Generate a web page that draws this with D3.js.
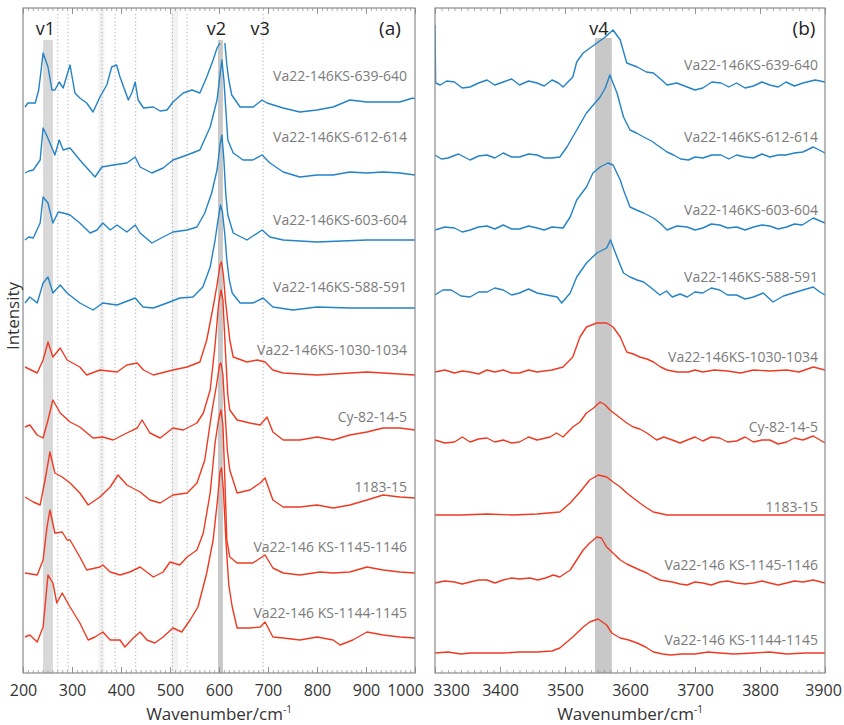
<!DOCTYPE html>
<html><head><meta charset="utf-8">
<script src="https://cdn.jsdelivr.net/npm/d3@7"></script>
<style>body{margin:0;background:#fff} svg{display:block}</style>
</head><body>
<svg id="c" width="844" height="725"></svg>
<script>
// ---------- DATA ----------
const seriesLabelsA = ["Va22-146KS-639-640","Va22-146KS-612-614","Va22-146KS-603-604","Va22-146KS-588-591","Va22-146KS-1030-1034","Cy-82-14-5","1183-15","Va22-146 KS-1145-1146","Va22-146 KS-1144-1145"];
const seriesLabelsB = seriesLabelsA.slice();
const seriesGroup = ["blue","blue","blue","blue","red","red","red","red","red"];
const ticksA = [200,300,400,500,600,700,800,900,1000];
const ticksB = [3300,3400,3500,3600,3700,3800,3900];
const bandsA = [[241,261],[598,608]];
const faintBandsA = [[354,366],[503,516]];
const dottedA = [271,292,361,388,430,505,535,690];
const bandB = [3546,3572];
const peakNamesA = [["v1",250],["v2",605],["v3",690]];
const peakNamesB = [["v4",3560]];

// panel (a) spectra: [wavenumber, stacked intensity (a.u.)]
const a1 = [[204,566],[210,570],[225,570],[232,583],[237,603],[241,620],[251,606],[259,583],[265,583],[274,591],[282,585],[296,608],[306,580],[316,575],[330,570],[343,561],[357,576],[371,588],[381,606],[391,608],[398,596],[415,573],[422,580],[429,591],[435,573],[446,565],[466,566],[480,562],[494,563],[506,571],[527,580],[545,583],[561,580],[575,596],[588,613],[596,625],[602,630],[607,null],[612,630],[616,608],[620,593],[626,578],[643,566],[670,566],[688,573],[698,570],[731,565],[765,561],[800,563],[833,566],[867,573],[902,571],[935,571],[969,571],[996,575],[1000,574]];
const a2 = [[204,500],[212,502],[221,503],[235,513],[241,545],[248,538],[255,530],[265,518],[274,533],[282,523],[296,525],[316,513],[347,496],[361,506],[384,508],[412,510],[429,516],[439,506],[463,500],[486,505],[506,513],[535,518],[561,523],[582,546],[596,573],[602,598],[606,613],[610,593],[614,563],[618,533],[629,520],[649,513],[669,513],[688,518],[704,510],[731,501],[765,496],[800,498],[833,498],[867,501],[902,500],[935,501],[969,500],[1000,498]];
const a3 = [[204,433],[212,436],[221,435],[235,450],[241,476],[246,473],[251,470],[261,450],[272,461],[282,460],[296,458],[316,450],[337,440],[351,443],[363,450],[378,443],[392,448],[412,441],[429,448],[439,440],[463,430],[486,436],[506,441],[535,443],[555,446],[571,460],[585,480],[596,503],[602,528],[606,538],[610,513],[614,478],[618,458],[629,440],[657,433],[688,443],[704,436],[731,433],[800,431],[902,433],[1000,433]];
const a4 = [[204,370],[214,376],[229,370],[241,390],[251,396],[261,380],[276,388],[290,380],[316,370],[343,363],[363,370],[392,368],[429,375],[445,366],[466,365],[494,370],[520,375],[547,376],[567,386],[582,406],[592,433],[598,453],[603,468],[607,461],[612,438],[616,413],[621,393],[627,380],[643,370],[669,370],[690,375],[710,366],[751,363],[800,366],[867,365],[935,365],[1000,365]];
const a5 = [[204,306],[229,300],[241,313],[251,331],[261,316],[276,325],[290,313],[316,306],[330,298],[357,303],[392,301],[412,308],[433,310],[446,303],[466,298],[506,303],[535,306],[561,311],[575,333],[588,366],[596,388],[602,408],[605,411],[609,398],[613,373],[616,360],[622,333],[629,316],[657,311],[678,313],[694,311],[710,303],[731,300],[800,298],[902,301],[1000,298]];
const a6 = [[204,246],[214,248],[229,238],[241,235],[251,253],[261,273],[276,260],[296,251],[316,246],[343,235],[363,236],[384,233],[412,240],[433,245],[443,253],[459,240],[480,235],[506,245],[527,243],[555,250],[568,260],[582,283],[592,328],[599,368],[604,383],[608,373],[613,323],[618,278],[622,263],[637,253],[663,250],[684,248],[698,256],[710,241],[731,233],[765,233],[800,236],[833,233],[867,238],[902,241],[935,245],[969,245],[1000,243]];
const a7 = [[204,176],[221,171],[235,168],[245,193],[255,221],[265,200],[280,196],[296,190],[316,180],[333,168],[357,176],[378,186],[394,198],[412,188],[439,181],[459,173],[480,170],[506,178],[535,180],[555,190],[571,213],[586,263],[595,288],[601,308],[604,310],[608,298],[612,263],[617,223],[622,203],[637,180],[663,183],[684,190],[694,195],[710,173],[731,166],[765,166],[800,168],[833,165],[867,168],[902,173],[935,178],[969,176],[1000,175]];
const a8 = [[204,100],[229,98],[241,113],[249,146],[255,163],[265,140],[280,141],[290,133],[296,133],[316,116],[330,103],[357,106],[363,108],[378,101],[398,98],[418,101],[439,106],[466,96],[486,101],[500,111],[520,108],[535,116],[555,123],[568,140],[582,180],[592,230],[599,253],[604,263],[608,248],[612,193],[616,133],[622,116],[637,110],[669,110],[694,118],[710,105],[731,100],[765,98],[806,101],[833,100],[867,101],[902,106],[935,103],[969,101],[1000,100]];
const a9 = [[204,36],[214,38],[229,31],[241,46],[251,98],[261,90],[269,70],[280,80],[296,66],[316,50],[333,33],[347,36],[363,41],[378,33],[398,33],[408,26],[425,35],[439,41],[453,33],[469,30],[486,36],[506,45],[524,41],[541,53],[557,66],[575,100],[588,133],[597,173],[602,201],[605,205],[609,183],[614,133],[620,88],[627,66],[637,45],[663,45],[684,46],[694,51],[710,36],[731,35],[765,33],[800,36],[833,33],[847,28],[873,33],[902,41],[935,38],[969,36],[1000,35]];

// panel (b) spectra
const b1 = [[3300,648],[3301,590],[3308,588],[3318,592],[3330,591],[3342,585],[3354,586],[3367,590],[3380,593],[3392,588],[3405,591],[3418,594],[3430,588],[3444,592],[3457,590],[3468,587],[3480,593],[3490,590],[3497,586],[3512,596],[3518,611],[3528,620],[3549,630],[3560,635],[3574,643],[3585,633],[3595,610],[3611,606],[3625,601],[3636,600],[3647,594],[3657,588],[3672,590],[3688,586],[3700,583],[3712,585],[3726,591],[3740,590],[3752,586],[3764,590],[3777,585],[3790,587],[3803,591],[3815,588],[3828,586],[3840,591],[3853,587],[3866,590],[3885,593],[3900,591]];
const b2 = [[3300,518],[3310,514],[3320,515],[3336,519],[3354,513],[3367,517],[3380,518],[3392,515],[3405,520],[3418,516],[3430,516],[3444,519],[3457,518],[3468,515],[3480,515],[3492,516],[3503,526],[3518,543],[3533,560],[3554,576],[3562,585],[3569,598],[3580,580],[3590,556],[3600,543],[3610,540],[3621,536],[3633,532],[3646,526],[3657,521],[3667,518],[3678,514],[3690,513],[3700,516],[3712,515],[3726,518],[3740,518],[3752,514],[3764,518],[3777,516],[3790,515],[3803,519],[3815,516],[3828,518],[3840,518],[3853,520],[3866,521],[3882,526],[3900,520]];
const b3 = [[3300,443],[3315,446],[3330,445],[3342,441],[3354,443],[3367,446],[3380,447],[3392,444],[3405,448],[3418,444],[3430,444],[3444,447],[3457,445],[3468,443],[3480,446],[3497,445],[3508,456],[3518,473],[3533,486],[3543,500],[3554,506],[3566,510],[3574,508],[3585,493],[3590,483],[3600,466],[3610,463],[3621,460],[3636,455],[3646,450],[3657,443],[3672,447],[3688,446],[3700,443],[3712,445],[3725,449],[3738,448],[3750,445],[3764,446],[3777,443],[3790,446],[3803,448],[3815,447],[3828,444],[3841,446],[3853,449],[3865,448],[3882,455],[3900,450]];
const b4 = [[3300,378],[3312,383],[3325,383],[3340,377],[3354,376],[3367,381],[3380,381],[3392,385],[3405,383],[3418,378],[3430,380],[3444,384],[3457,380],[3472,378],[3488,376],[3495,370],[3508,380],[3518,396],[3533,410],[3549,420],[3564,425],[3570,433],[3580,416],[3590,400],[3600,396],[3611,393],[3621,391],[3631,386],[3646,378],[3656,382],[3665,376],[3677,379],[3688,376],[3700,381],[3712,380],[3725,385],[3738,383],[3750,378],[3764,378],[3777,374],[3790,376],[3805,380],[3820,371],[3836,377],[3851,380],[3866,383],[3882,386],[3892,381],[3900,378]];
const b5 = [[3300,301],[3315,303],[3330,300],[3342,302],[3354,301],[3367,299],[3380,303],[3392,301],[3405,303],[3418,300],[3430,300],[3444,303],[3457,301],[3468,302],[3480,303],[3497,306],[3512,316],[3523,336],[3533,346],[3549,350],[3564,350],[3574,346],[3585,336],[3595,321],[3605,319],[3615,316],[3626,314],[3636,311],[3647,306],[3657,303],[3672,301],[3690,301],[3700,303],[3712,301],[3730,303],[3750,302],[3770,300],[3790,303],[3815,302],[3841,303],[3860,301],[3882,306],[3900,303]];
const b6 = [[3300,233],[3315,230],[3330,231],[3342,236],[3354,231],[3367,234],[3380,235],[3392,231],[3405,233],[3418,230],[3430,231],[3444,236],[3457,233],[3477,236],[3487,240],[3497,236],[3512,246],[3523,251],[3533,260],[3544,265],[3554,271],[3562,268],[3569,263],[3585,255],[3595,250],[3605,246],[3615,244],[3626,240],[3641,233],[3652,236],[3665,233],[3677,230],[3688,233],[3700,236],[3712,232],[3725,236],[3738,235],[3750,231],[3764,232],[3777,236],[3790,231],[3803,233],[3815,233],[3828,229],[3841,231],[3853,235],[3866,233],[3882,237],[3900,230]];
const b7 = [[3300,158],[3340,158],[3380,159],[3420,158],[3457,159],[3492,161],[3508,170],[3523,181],[3538,193],[3551,198],[3564,196],[3574,191],[3585,186],[3595,180],[3605,175],[3615,170],[3626,165],[3636,161],[3657,158],[3700,158],[3738,158],[3800,158],[3850,158],[3900,158]];
const b8 = [[3300,90],[3315,92],[3330,91],[3342,89],[3354,91],[3367,93],[3380,93],[3392,90],[3405,93],[3418,95],[3430,94],[3446,95],[3458,93],[3470,95],[3482,98],[3492,96],[3508,103],[3518,113],[3528,123],[3538,130],[3549,136],[3556,135],[3564,126],[3569,123],[3585,113],[3595,109],[3605,106],[3615,103],[3626,100],[3636,96],[3646,93],[3665,91],[3677,89],[3688,88],[3700,91],[3712,90],[3725,88],[3738,91],[3750,92],[3764,90],[3777,89],[3790,90],[3803,92],[3815,90],[3828,88],[3841,90],[3853,92],[3866,91],[3882,93],[3900,90]];
const b9 = [[3300,20],[3320,21],[3340,19],[3354,20],[3380,20],[3405,20],[3430,21],[3457,21],[3480,22],[3492,25],[3512,36],[3528,46],[3538,51],[3551,54],[3564,48],[3572,40],[3585,35],[3598,33],[3611,30],[3624,26],[3636,21],[3650,19],[3662,18],[3680,19],[3700,19],[3720,21],[3738,20],[3760,19],[3790,20],[3815,21],[3841,19],[3870,20],[3900,20]];

const spectraA = [a1,a2,a3,a4,a5,a6,a7,a8,a9];
const spectraB = [b1,b2,b3,b4,b5,b6,b7,b8,b9];

// ---------- LAYOUT ----------
const plotTop = 8, plotBottom = 673;
const colors = {blue:"#2383c6", red:"#ef3a22"};
const font = "'Open Sans', 'Noto Sans', sans-serif";
const labelYA = [81,142,225,292,355,422,492,552,618];
const labelYB = [70,142,215,282,362,432,512,570,645];

const svg = d3.select("#c");
const y = d3.scaleLinear().domain([0,665]).range([plotBottom, plotTop]);

function panel(opts){
  const x = d3.scaleLinear().domain(opts.domain).range(opts.range);
  const g = svg.append("g");
  const id = "clip"+opts.name;
  svg.append("defs").append("clipPath").attr("id", id)
    .append("rect").attr("x", opts.range[0]).attr("y", plotTop)
    .attr("width", opts.range[1]-opts.range[0]).attr("height", plotBottom-plotTop);
  const inner = g.append("g").attr("clip-path", `url(#${id})`);

  (opts.faint||[]).forEach(b => inner.append("rect")
    .attr("x", x(b[0])).attr("width", x(b[1])-x(b[0]))
    .attr("y", plotTop).attr("height", plotBottom-plotTop).attr("fill", "#f2f2f2"));
  (opts.bands||[]).forEach((b,i) => inner.append("rect")
    .attr("x", x(b[0])).attr("width", x(b[1])-x(b[0]))
    .attr("y", plotTop+(opts.bandTop||0)).attr("height", plotBottom-plotTop-(opts.bandTop||0))
    .attr("fill", i===0 && opts.name==="A" ? "#d8d8d8" : "#c8c8c8"));
  (opts.dotted||[]).forEach(v => inner.append("line")
    .attr("x1", x(v)).attr("x2", x(v)).attr("y1", plotTop+6).attr("y2", plotBottom)
    .attr("stroke", "#9a9a9a").attr("stroke-width", 0.8).attr("stroke-dasharray", "1.2,2.4"));

  const line = d3.line().defined(d => d[1] !== null).x(d => x(d[0])).y(d => y(d[1]));
  opts.spectra.forEach((s,i) => inner.append("path").datum(s)
    .attr("d", line).attr("fill", "none")
    .attr("stroke", colors[seriesGroup[i]]).attr("stroke-width", 1.4)
    .attr("stroke-linejoin", "round"));

  opts.labels.forEach((t,i) => g.append("text")
    .attr("x", opts.labelX).attr("y", opts.labelY[i])
    .attr("text-anchor", "end").attr("font-family", font).attr("font-size", 14)
    .attr("fill", "#7b7b7b").text(t));

  g.append("rect").attr("x", opts.range[0]).attr("y", plotTop)
    .attr("width", opts.range[1]-opts.range[0]).attr("height", plotBottom-plotTop)
    .attr("fill", "none").attr("stroke", "#8a8a8a").attr("stroke-width", 1.2);

  const minor = d3.range(opts.domain[0], opts.domain[1]+0.1, 10);
  const axB = d3.axisBottom(x).tickValues(minor).tickSize(-3).tickFormat("");
  const axT = d3.axisTop(x).tickValues(minor).tickSize(-3).tickFormat("");
  const gB = g.append("g").attr("transform", `translate(0,${plotBottom})`).call(axB);
  const gT = g.append("g").attr("transform", `translate(0,${plotTop})`).call(axT);
  [gB,gT].forEach(a => { a.select(".domain").remove(); a.selectAll("line").attr("stroke","#8a8a8a").attr("stroke-width",0.7); });
  const majB = d3.axisBottom(x).tickValues(opts.ticks).tickSize(-6).tickPadding(12).tickFormat(d3.format("d"));
  const majT = d3.axisTop(x).tickValues(opts.ticks).tickSize(-6).tickFormat("");
  const mB = g.append("g").attr("transform", `translate(0,${plotBottom})`).call(majB);
  const mT = g.append("g").attr("transform", `translate(0,${plotTop})`).call(majT);
  [mB,mT].forEach(a => { a.select(".domain").remove(); a.selectAll("line").attr("stroke","#8a8a8a").attr("stroke-width",0.9); });
  mB.selectAll("text").attr("font-family", font).attr("font-size", 16).attr("fill", "#333")
    .attr("dx", d => opts.tickShift[d] || 0);

  opts.peaks.forEach(p => g.append("text").attr("x", x(p[1]) + (p[2]||0)).attr("y", 35)
    .attr("text-anchor","middle").attr("font-family", font).attr("font-size", 18)
    .attr("fill", "#222").text(p[0]));
  g.append("text").attr("x", opts.tagX).attr("y", 35).attr("text-anchor","middle")
    .attr("font-family", font).attr("font-size", 19).attr("fill", "#222").text(opts.tag);

  const t = g.append("text").attr("x", (opts.range[0]+opts.range[1])/2).attr("y", 720)
    .attr("text-anchor","middle").attr("font-family", font).attr("font-size", 17).attr("fill","#333");
  t.append("tspan").text("Wavenumber/cm");
  t.append("tspan").attr("dy", -7).attr("font-size", 10).text("-1");
  return x;
}

panel({name:"A", domain:[200,1000], range:[23,415], spectra:spectraA,
  bands:bandsA, faint:faintBandsA, dotted:dottedA, bandTop:32, labels:seriesLabelsA, labelX:407,
  labelY:labelYA, ticks:ticksA, tickShift:{1000:-10}, tag:"(a)", tagX:390,
  peaks:[[peakNamesA[0][0],peakNamesA[0][1],-2],[peakNamesA[1][0],peakNamesA[1][1],-5],[peakNamesA[2][0],peakNamesA[2][1],-3]]});
panel({name:"B", domain:[3300,3900], range:[435,825], spectra:spectraB,
  bands:[bandB], bandTop:30, labels:seriesLabelsB, labelX:818, labelY:labelYB,
  ticks:ticksB, tickShift:{3300:16, 3900:-2}, tag:"(b)", tagX:804,
  peaks:[[peakNamesB[0][0],peakNamesB[0][1],-5]]});

svg.append("text").attr("transform","translate(19,316) rotate(-90)")
  .attr("text-anchor","middle").attr("font-family", font).attr("font-size", 17)
  .attr("fill","#333").text("Intensity");
</script>
</body></html>
